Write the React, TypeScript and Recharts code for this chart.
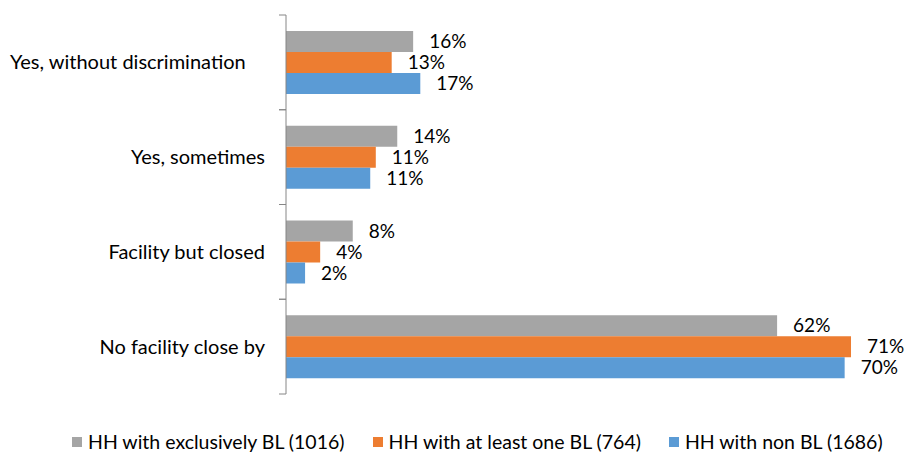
import React from 'react';
import { BarChart, Bar, XAxis, YAxis, Legend, LabelList } from 'recharts';

const categories = ['Yes, without discrimination', 'Yes, sometimes', 'Facility but closed', 'No facility close by'];
const exclusivelyBL = [16, 14, 8.4, 61.8];
const atLeastOneBL = [13.3, 11.3, 4.3, 71.1];
const nonBL = [16.9, 10.6, 2.4, 70.3];
const seriesNames = ['HH with exclusively BL (1016)', 'HH with at least one BL (764)', 'HH with non BL (1686)'];

const FONT = 'Lato, "Noto Sans", sans-serif';
const CHART_W = 907;
const CHART_H = 453;
const MARGIN = { top: 15, right: 25, left: 0, bottom: 59 };

const data = categories.map((c, i) => ({
  category: c,
  excl: exclusivelyBL[i],
  atLeast: atLeastOneBL[i],
  non: nonBL[i],
}));

// Excel-style axis: tick marks sit on the band boundaries, label in the middle.
// Long labels overflow the label column, so they get pinned to the left edge like Excel does.
const CategoryTick = (props: any) => {
  const { x, y, payload } = props;
  const half = (CHART_H - MARGIN.top - MARGIN.bottom) / categories.length / 2;
  const label = String(payload.value);
  const tooLong = label.length > 22;
  return (
    <g>
      <line x1={x - 7} x2={x} y1={y - half} y2={y - half} stroke="#868686" />
      <line x1={x - 7} x2={x} y1={y + half} y2={y + half} stroke="#868686" />
      <text
        x={tooLong ? 10 : x - 21}
        y={y}
        dy="0.35em"
        textAnchor={tooLong ? 'start' : 'end'}
        fill="#000"
        fontSize={20}
        fontFamily={FONT}
      >
        {label}
      </text>
    </g>
  );
};

const renderLegend = (props: any) => {
  const items = [...(props.payload || [])].sort(
    (a: any, b: any) => seriesNames.indexOf(a.value) - seriesNames.indexOf(b.value)
  );
  return (
    <div style={{ display: 'flex', gap: 28, fontFamily: FONT, fontSize: 19.5, color: '#000' }}>
      {items.map((e: any) => (
        <span key={e.value} style={{ display: 'flex', alignItems: 'center', whiteSpace: 'nowrap' }}>
          <span style={{ width: 10, height: 10, background: e.color, marginRight: 6, display: 'inline-block' }} />
          {e.value}
        </span>
      ))}
    </div>
  );
};

const pct = (v: any) => `${Math.round(Number(v))}%`;

export default function App() {
  return (
    <div style={{ position: 'absolute', left: 0, top: 0, background: '#fff' }}>
      <BarChart
        width={CHART_W}
        height={CHART_H}
        data={data}
        layout="vertical"
        margin={MARGIN}
        barGap={0}
        barSize={21}
      >
        <XAxis type="number" hide domain={[0, 75]} allowDataOverflow />
        <YAxis
          type="category"
          dataKey="category"
          width={286}
          interval={0}
          axisLine={{ stroke: '#868686' }}
          tickLine={false}
          tickSize={0}
          tickMargin={0}
          tick={<CategoryTick />}
        />
        <Legend
          verticalAlign="middle"
          align="center"
          content={renderLegend}
          wrapperStyle={{ top: 430, left: 72, width: 835 }}
        />
        <Bar dataKey="excl" name={seriesNames[0]} fill="#A5A5A5" isAnimationActive={false}>
          <LabelList dataKey="excl" position="right" offset={16} formatter={pct} fill="#000" fontSize={19} fontFamily={FONT} />
        </Bar>
        <Bar dataKey="atLeast" name={seriesNames[1]} fill="#ED7D31" isAnimationActive={false}>
          <LabelList dataKey="atLeast" position="right" offset={16} formatter={pct} fill="#000" fontSize={19} fontFamily={FONT} />
        </Bar>
        <Bar dataKey="non" name={seriesNames[2]} fill="#5B9BD5" isAnimationActive={false}>
          <LabelList dataKey="non" position="right" offset={16} formatter={pct} fill="#000" fontSize={19} fontFamily={FONT} />
        </Bar>
      </BarChart>
    </div>
  );
}
